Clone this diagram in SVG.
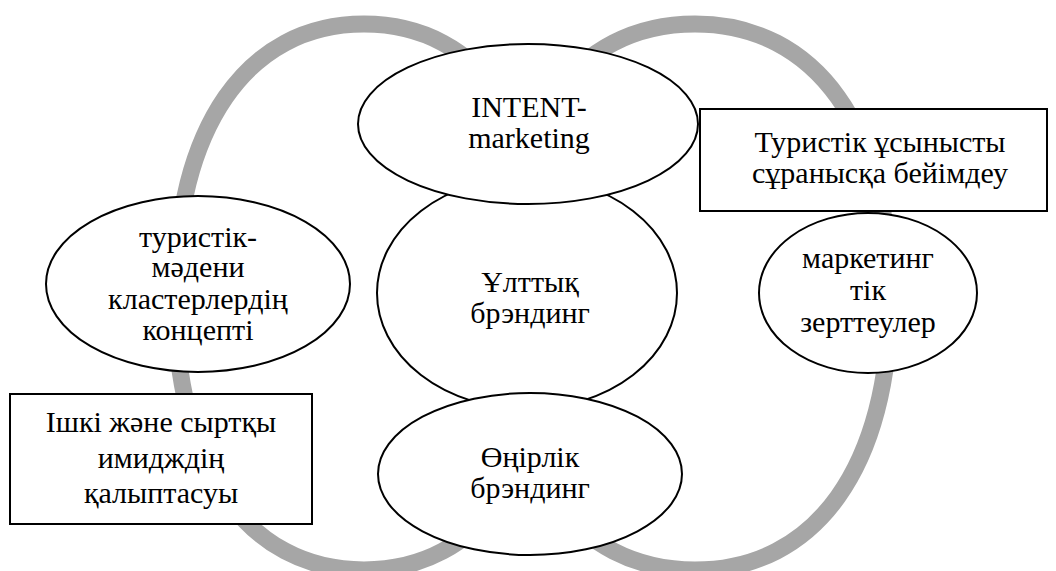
<svg xmlns="http://www.w3.org/2000/svg" width="1056" height="571" viewBox="0 0 1056 571">
<style>
.ring{fill:none;stroke:#a6a6a6;stroke-width:17}
.shape{fill:#fff;stroke:#000;stroke-width:2}
text{font-family:"Liberation Serif","Times New Roman",serif;font-size:30px;fill:#000;text-anchor:middle}
</style>
<rect width="1056" height="571" fill="#fff"/>
<g id="connectors">
<path class="ring" d="M 364,24 C 481,24 553,128 553,297 C 553,466 481,570 364,570 C 247,570 175,466 175,297 C 175,128 247,24 364,24 Z"/>
<path class="ring" d="M 695,24 C 816,24 890,128 890,297 C 890,466 816,570 695,570 C 574,570 500,466 500,297 C 500,128 574,24 695,24 Z"/>
</g>
<g id="node-national">
<ellipse class="shape" cx="527" cy="293" rx="150" ry="116"/>
<text x="530" y="292">Ұлттық</text>
<text x="530" y="323">брэндинг</text>
</g>
<g id="node-intent">
<ellipse class="shape" cx="528" cy="124" rx="170" ry="80"/>
<text x="529" y="117">INTENT-</text>
<text x="529" y="148">marketing</text>
</g>
<g id="node-regional">
<ellipse class="shape" cx="530" cy="474" rx="152" ry="81"/>
<text x="530" y="467">Өңірлік</text>
<text x="530" y="498">брэндинг</text>
</g>
<g id="node-cluster">
<ellipse class="shape" cx="198" cy="284" rx="152" ry="88"/>
<text x="198" y="247">туристік-</text>
<text x="198" y="277">мәдени</text>
<text x="198" y="309">кластерлердің</text>
<text x="198" y="340">концепті</text>
</g>
<g id="node-research">
<ellipse class="shape" cx="868" cy="293" rx="109" ry="80"/>
<text x="868" y="268">маркетинг</text>
<text x="868" y="300">тік</text>
<text x="868" y="332">зерттеулер</text>
</g>
<g id="node-image">
<rect class="shape" x="10" y="394" width="302" height="130"/>
<text x="161" y="432">Ішкі және сыртқы</text>
<text x="161" y="468">имидждің</text>
<text x="161" y="503">қалыптасуы</text>
</g>
<g id="node-offer">
<rect class="shape" x="700" y="109" width="347" height="102"/>
<text x="880" y="152">Туристік ұсынысты</text>
<text x="880" y="183">сұранысқа бейімдеу</text>
</g>
</svg>
